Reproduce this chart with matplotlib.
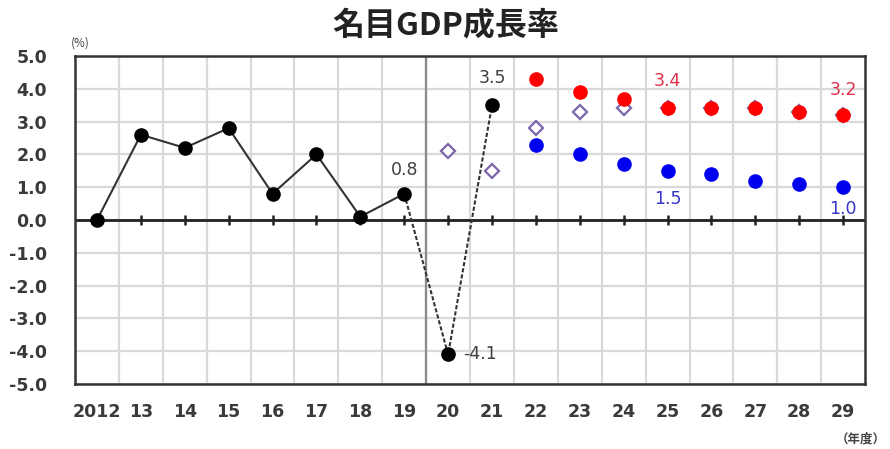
import matplotlib
matplotlib.use("Agg")
import matplotlib.pyplot as plt

plt.rcParams['font.family'] = ['DejaVu Sans', 'Noto Sans CJK JP']

# Fiscal years (axis labels)
years = ["2012", "13", "14", "15", "16", "17", "18", "19", "20",
         "21", "22", "23", "24", "25", "26", "27", "28", "29"]

# Actual nominal GDP growth (FY2012-FY2021)
actual = [0.0, 2.6, 2.2, 2.8, 0.8, 2.0, 0.1, 0.8, -4.1, 3.5]

# Growth-realization scenario (FY2022-FY2029)
growth_case = [4.3, 3.9, 3.7, 3.4, 3.4, 3.4, 3.3, 3.2]

# Baseline scenario (FY2022-FY2029)
baseline_case = [2.3, 2.0, 1.7, 1.5, 1.4, 1.2, 1.1, 1.0]

# Previous projection (FY2020-FY2029)
previous_case = [2.1, 1.5, 2.8, 3.3, 3.4, 3.4, 3.4, 3.4, 3.3, 3.2]

yticks = [5.0, 4.0, 3.0, 2.0, 1.0, 0.0, -1.0, -2.0, -3.0, -4.0, -5.0]

x = list(range(len(years)))
x_actual = x[:len(actual)]
x_proj = x[10:]
x_prev = x[8:]

fig = plt.figure(figsize=(8.9, 4.49), dpi=100)
ax = fig.add_axes([0.0843, 0.1448, 0.8877, 0.7305])

ax.set_xlim(-0.5, len(years) - 0.5)
ax.set_ylim(-5, 5)

# grid: horizontal at each unit, vertical at category boundaries
for yv in yticks:
    ax.axhline(yv, color='#d9d9d9', lw=1.6, zorder=0)
for b in range(1, len(years)):
    ax.axvline(b - 0.5, color='#d9d9d9', lw=1.6, zorder=0)
ax.axvline(7.5, color='#8a8a8a', lw=1.6, zorder=1)

# zero line with tick marks at category centres
ax.axhline(0, color='#222222', lw=2.0, zorder=2)
ax.plot(x, [0] * len(x), linestyle='none', marker='|', markersize=7,
        markeredgewidth=1.8, color='#222222', zorder=2)

for s in ax.spines.values():
    s.set_color('#333333')
    s.set_linewidth(1.8)

# actual series: solid through FY2019, dashed afterwards
ax.plot(x_actual[:8], actual[:8], color='#333333', lw=1.5, zorder=3)
ax.plot(x_actual[7:], actual[7:], color='#333333', lw=1.5,
        linestyle=(0, (2.0, 1.0)), zorder=3)
ax.plot(x_actual, actual, linestyle='none', marker='o', markersize=9.5,
        color='black', zorder=4)

# previous projection (open diamonds), drawn beneath the new scenarios
ax.plot(x_prev, previous_case, linestyle='none', marker='D', markersize=7.5,
        markerfacecolor='white', markeredgecolor='#7a65a8',
        markeredgewidth=1.6, zorder=3)

ax.plot(x_proj, growth_case, linestyle='none', marker='o', markersize=9.5,
        color='#ff0000', zorder=5)
ax.plot(x_proj, baseline_case, linestyle='none', marker='o', markersize=9.5,
        color='#0000f0', zorder=5)

# value labels
lab_kw = dict(fontsize=12.5, ha='center', zorder=6)
ax.text(7, actual[7] + 0.45, f"{actual[7]:.1f}", color='#404040', va='bottom', **lab_kw)
ax.text(9, actual[9] + 0.55, f"{actual[9]:.1f}", color='#404040', va='bottom', **lab_kw)
ax.text(8.35, actual[8], f"{actual[8]:.1f}", color='#404040', va='center',
        fontsize=12.5, ha='left', zorder=6)
ax.text(13, growth_case[3] + 0.55, f"{growth_case[3]:.1f}", color='#e0304a', va='bottom', **lab_kw)
ax.text(17, growth_case[7] + 0.5, f"{growth_case[7]:.1f}", color='#e0304a', va='bottom', **lab_kw)
ax.text(13, baseline_case[3] - 0.6, f"{baseline_case[3]:.1f}", color='#3535c8', va='top', **lab_kw)
ax.text(17, baseline_case[7] - 0.4, f"{baseline_case[7]:.1f}", color='#3535c8', va='top', **lab_kw)

# axes ticks
ax.set_yticks(yticks)
ax.set_yticklabels([f"{v:.1f}" for v in yticks], fontsize=12.5,
                   fontweight='bold', color='#3a3a3a')
ax.set_xticks(x)
ax.set_xticklabels(years, fontsize=12.5, fontweight='bold', color='#3a3a3a')
ax.tick_params(axis='both', length=0)
ax.tick_params(axis='y', pad=20)
ax.tick_params(axis='x', pad=14)

fig.text(0.501, 0.943, "名目GDP成長率", ha='center', va='center',
         fontsize=23, fontweight='bold', color='#222222',
         family=['Noto Sans CJK JP', 'DejaVu Sans'])
fig.text(0.09, 0.905, "(%)", ha='center', va='center', fontsize=8.5,
         color='#444444', family=['Noto Sans CJK JP', 'DejaVu Sans'])
fig.text(0.967, 0.022, "（年度）", ha='center', va='center', fontsize=9,
         fontweight='bold', color='#444444',
         family=['Noto Sans CJK JP', 'DejaVu Sans'])

fig.savefig("out.png", dpi=100)
